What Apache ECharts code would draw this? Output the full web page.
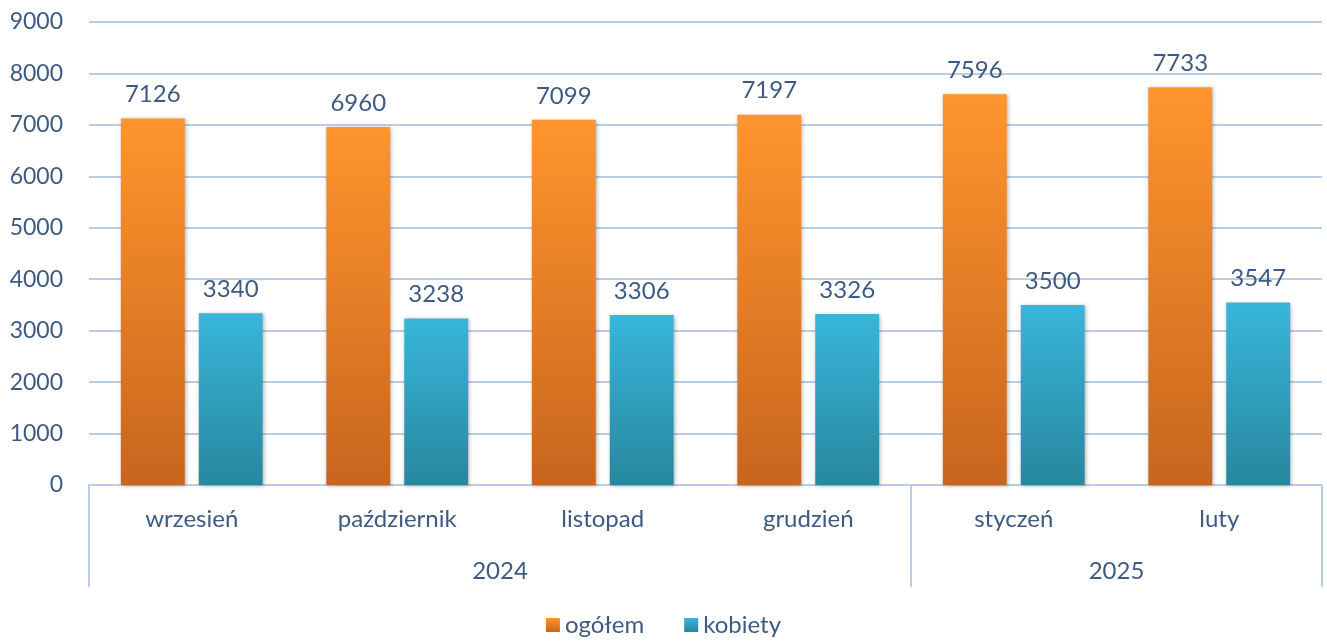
<!DOCTYPE html>
<html>
<head>
<meta charset="utf-8">
<script src="https://cdn.jsdelivr.net/npm/echarts@6/dist/echarts.min.js"></script>
<style>
  html, body { margin: 0; padding: 0; background: #fff; }
  #chart { width: 1327px; height: 642px; }
</style>
</head>
<body>
<div id="chart"></div>
<script>
var months = ['wrzesień', 'październik', 'listopad', 'grudzień', 'styczeń', 'luty'];
var years = ['2024', '2025'];
var yearSpans = [4, 2];
var ogolem = [7126, 6960, 7099, 7197, 7596, 7733];
var kobiety = [3340, 3238, 3306, 3326, 3500, 3547];

var textColor = '#3c5a82';
var lineColor = '#bacde4';
var font = 'Lato';

// group boundaries and centres for the year row (in half-category units)
var yearTicks = [0];
var yearCenters = [];
var pos = 0;
for (var i = 0; i < yearSpans.length; i++) {
  yearCenters.push(pos + yearSpans[i]);
  pos += yearSpans[i] * 2;
  yearTicks.push(pos);
}

function grad(top, bottom) {
  return new echarts.graphic.LinearGradient(0, 0, 0, 1, [
    { offset: 0, color: top },
    { offset: 1, color: bottom }
  ]);
}

var myChart = echarts.init(document.getElementById('chart'));

var option = {
  animation: false,
  textStyle: { fontFamily: font },
  grid: { left: 89, right: 5, top: 22, bottom: 157 },
  legend: {
    bottom: 0,
    left: 'center',
    icon: 'rect',
    itemWidth: 14,
    itemHeight: 14,
    itemGap: 40,
    itemTextGap: 8,
    textStyle: { color: textColor, fontSize: 24, fontFamily: font },
    data: ['ogółem', 'kobiety']
  },
  xAxis: [
    {
      type: 'category',
      data: months,
      axisTick: { show: false },
      axisLine: { lineStyle: { color: lineColor, width: 2 } },
      axisLabel: { color: textColor, fontSize: 24, margin: 22 }
    },
    {
      type: 'value',
      position: 'bottom',
      min: 0,
      max: pos,
      splitLine: { show: false },
      axisLine: { show: false },
      axisTick: {
        show: true,
        customValues: yearTicks,
        length: 102,
        lineStyle: { color: lineColor, width: 2 }
      },
      axisLabel: {
        customValues: yearCenters,
        color: textColor,
        fontSize: 24,
        margin: 74,
        formatter: function (v) {
          return years[yearCenters.indexOf(v)];
        }
      }
    }
  ],
  yAxis: {
    type: 'value',
    min: 0,
    max: 9000,
    interval: 1000,
    axisLine: { show: false },
    axisTick: { show: false },
    axisLabel: {
      color: textColor,
      fontSize: 23,
      margin: 26,
      formatter: function (v) { return String(v); }
    },
    splitLine: { lineStyle: { color: lineColor, width: 2 } }
  },
  series: [
    {
      name: 'ogółem',
      type: 'bar',
      data: ogolem,
      barGap: '22%',
      barCategoryGap: '31%',
      itemStyle: {
        color: grad('#ff952d', '#c8651e'),
        shadowBlur: 4,
        shadowColor: 'rgba(0,0,0,0.3)',
        shadowOffsetX: 1,
        shadowOffsetY: 1
      },
      label: { show: true, position: 'top', distance: 12, color: textColor, fontSize: 24 }
    },
    {
      name: 'kobiety',
      type: 'bar',
      data: kobiety,
      itemStyle: {
        color: grad('#38b6da', '#27879e'),
        shadowBlur: 4,
        shadowColor: 'rgba(0,0,0,0.3)',
        shadowOffsetX: 1,
        shadowOffsetY: 1
      },
      label: { show: true, position: 'top', distance: 12, color: textColor, fontSize: 24 }
    }
  ]
};

myChart.setOption(option);
</script>
</body>
</html>
